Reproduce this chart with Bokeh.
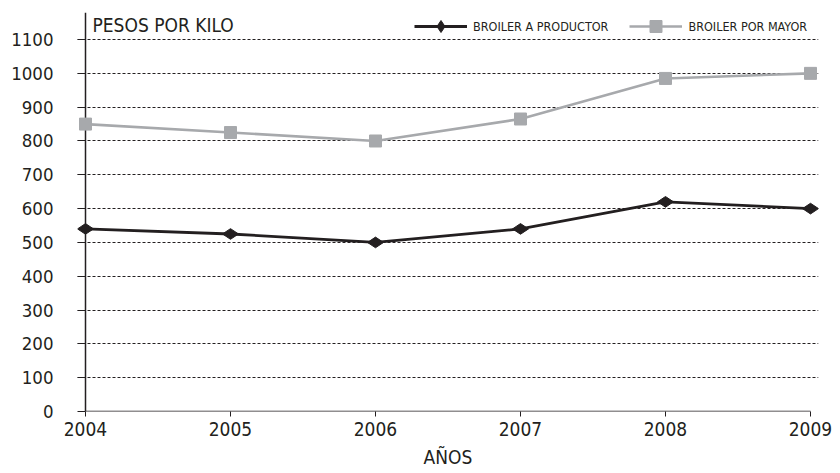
import math
from bokeh.plotting import figure
from bokeh.models import Range1d, FixedTicker, Label, Legend, LegendItem
from bokeh.embed import file_html
from bokeh.resources import INLINE

years = [2004, 2005, 2006, 2007, 2008, 2009]
productor = [540, 525, 500, 540, 620, 600]
mayor = [850, 825, 800, 865, 985, 1000]
y_ticks = [0, 100, 200, 300, 400, 500, 600, 700, 800, 900, 1000, 1100]

FONT = "DejaVu Sans Condensed"
TXT = "#231f20"
DARK = "#231f20"
GREY = "#a7a9ac"

pad = 8 / 145.0
p = figure(width=840, height=473, output_backend="svg", toolbar_location=None,
           x_range=Range1d(years[0] - pad, years[-1] + pad),
           y_range=Range1d(0, 1180),
           min_border_left=77, min_border_right=22, min_border_top=12, min_border_bottom=62)
p.outline_line_color = None
p.background_fill_color = "white"
p.border_fill_color = "white"

# grid
p.xgrid.grid_line_color = None
p.ygrid.ticker = FixedTicker(ticks=y_ticks[1:])
p.ygrid.grid_line_color = "#231f20"
p.ygrid.grid_line_dash = "3 2"
p.ygrid.grid_line_width = 1

# y axis
p.yaxis.ticker = FixedTicker(ticks=y_ticks)
p.yaxis.axis_line_color = None
p.yaxis.major_tick_in = 8
p.yaxis.major_tick_out = 0
p.yaxis.major_tick_line_color = TXT
p.yaxis.minor_tick_line_color = None
p.yaxis.major_label_text_font = FONT
p.yaxis.major_label_text_font_size = "18.5px"
p.yaxis.major_label_text_color = TXT
p.yaxis.major_label_standoff = 24

# x axis
p.xaxis.ticker = FixedTicker(ticks=years)
p.xaxis.axis_line_color = None
p.xaxis.major_tick_in = 0
p.xaxis.major_tick_out = 5
p.xaxis.major_tick_line_color = TXT
p.xaxis.minor_tick_line_color = None
p.xaxis.major_label_text_font = FONT
p.xaxis.major_label_text_font_size = "19px"
p.xaxis.major_label_text_color = TXT
p.xaxis.major_label_standoff = 5
p.xaxis.axis_label = "AÑOS"
p.xaxis.axis_label_text_font = FONT
p.xaxis.axis_label_text_font_size = "19px"
p.xaxis.axis_label_text_font_style = "normal"
p.xaxis.axis_label_text_color = TXT
p.xaxis.axis_label_standoff = 7

# axis lines
p.segment(x0=[years[0]], y0=[0], x1=[years[0]], y1=[1180], line_color=TXT, line_width=1.5)
p.segment(x0=[years[0]], y0=[0], x1=[years[-1]], y1=[0], line_color=TXT, line_width=1.5)

# series
l1 = p.line(years, productor, line_color=DARK, line_width=2.8)
m1 = p.scatter(years, productor, marker="diamond", size=16, angle=math.pi / 2,
               fill_color=DARK, line_color=DARK, line_width=1)
l2 = p.line(years, mayor, line_color=GREY, line_width=2.6)
m2 = p.scatter(years, mayor, marker="square", size=12, fill_color=GREY, line_color=GREY,
               line_width=1)

legend = Legend(items=[LegendItem(label="BROILER A PRODUCTOR", renderers=[l1, m1]),
                       LegendItem(label="BROILER POR MAYOR", renderers=[l2, m2])],
                orientation="horizontal", location=(337, 370))
legend.background_fill_alpha = 0
legend.border_line_color = None
legend.label_text_font = FONT
legend.label_text_font_size = "12.5px"
legend.label_text_color = TXT
legend.label_text_baseline = "middle"
legend.glyph_width = 53
legend.glyph_height = 30
legend.label_standoff = 6
legend.label_height = 30
legend.spacing = 21
legend.padding = 0
legend.margin = 0
p.add_layout(legend)

p.add_layout(Label(x=15, y=387, x_units="screen", y_units="screen", text="PESOS POR KILO",
                   text_font=FONT, text_font_size="19px", text_color=TXT,
                   text_baseline="middle"))

open("out.html", "w").write(file_html(p, INLINE))
